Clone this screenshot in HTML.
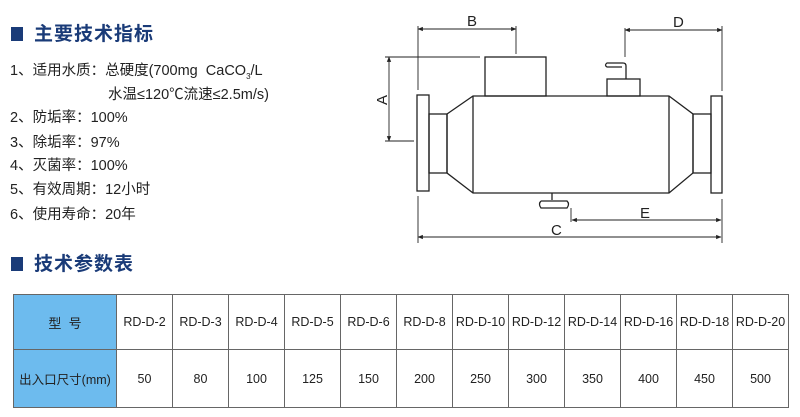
<!DOCTYPE html>
<html><head><meta charset="utf-8"><style>
body{margin:0;width:800px;height:417px;background:#fff;position:relative;overflow:hidden;font-family:"Liberation Sans","Noto Sans CJK SC",sans-serif;color:#222}
.h{position:absolute;left:11px;color:#1a3b78;font-weight:bold;font-size:19px;line-height:20px;letter-spacing:1px}
.h i{display:inline-block;width:12px;height:14px;background:#1a3b78;margin-right:11px;vertical-align:-1px}
.l{position:absolute;left:10px;font-size:14.5px;line-height:16px;white-space:nowrap}
table{position:absolute;left:13px;top:294px;border-collapse:collapse;font-size:12.5px}
td{border:1px solid #666;text-align:center;padding:0;width:55px;white-space:nowrap}
td.f{width:102px;background:#6dbbee;font-size:13px}
tr.a td{height:54px}tr.b td{height:57px}
</style></head><body>
<div class="h" style="top:25px"><i></i>主要技术指标</div>
<div class="l" style="top:63px">1、适用水质：总硬度(700mg&nbsp; CaCO<sub style="font-size:8px">3</sub>/L</div>
<div class="l" style="top:87px;left:108px">水温≤120℃流速≤2.5m/s)</div>
<div class="l" style="top:110px">2、防垢率：100%</div>
<div class="l" style="top:135px">3、除垢率：97%</div>
<div class="l" style="top:158px">4、灭菌率：100%</div>
<div class="l" style="top:182px">5、有效周期：12小时</div>
<div class="l" style="top:207px">6、使用寿命：20年</div>
<div class="h" style="top:255px"><i></i>技术参数表</div>
<svg width="800" height="417" style="position:absolute;left:0;top:0" fill="none" stroke="#222" stroke-width="1.3">
<defs><marker id="m" viewBox="0 0 10 10" refX="9" refY="5" markerWidth="6" markerHeight="6" orient="auto-start-reverse"><path d="M0,1L10,5L0,9z" fill="#222" stroke="none"/></marker></defs>
<rect x="417" y="95" width="12" height="96"/>
<rect x="429" y="114" width="18" height="59"/>
<path d="M447,114L473,96L669,96L693,114L693,173L669,193L473,193L447,173z"/>
<line x1="473" y1="96" x2="473" y2="193"/><line x1="669" y1="96" x2="669" y2="193"/>
<rect x="693" y="114" width="18" height="59"/>
<rect x="711" y="96" width="11" height="97"/>
<rect x="485" y="57" width="61" height="39"/>
<rect x="607" y="79" width="33" height="17"/>
<path d="M626,79L626,66Q626,63 623,63L607,63Q604,65 607,67L622,67"/>
<path d="M552,193L552,200M541,201L567,201Q570,204 567,208L541,208Q538,204 541,201" />
<g stroke-width="0.9">
<line x1="418" y1="26" x2="418" y2="90"/><line x1="516" y1="26" x2="516" y2="54"/>
<line x1="418" y1="29" x2="516" y2="29" marker-start="url(#m)" marker-end="url(#m)"/>
<line x1="625" y1="28" x2="625" y2="57"/><line x1="722" y1="26" x2="722" y2="91"/>
<line x1="625" y1="30" x2="722" y2="30" marker-start="url(#m)" marker-end="url(#m)"/>
<line x1="385" y1="57" x2="480" y2="57"/><line x1="385" y1="141" x2="414" y2="141"/>
<line x1="389" y1="57" x2="389" y2="141" marker-start="url(#m)" marker-end="url(#m)"/>
<line x1="418" y1="196" x2="418" y2="243"/><line x1="722" y1="199" x2="722" y2="243"/>
<line x1="418" y1="237" x2="721" y2="237" marker-start="url(#m)" marker-end="url(#m)"/>
<line x1="571" y1="208" x2="571" y2="222"/>
<line x1="572" y1="220" x2="721" y2="220" marker-start="url(#m)" marker-end="url(#m)"/>
</g>
<g fill="#222" stroke="none" font-family="Liberation Sans" font-size="15">
<text x="467" y="26">B</text><text x="673" y="27">D</text><text x="640" y="218">E</text><text x="551" y="235">C</text>
<text transform="translate(387,105) rotate(-90)">A</text></g>
</svg>
<table>
<tr class="a"><td class="f">型&nbsp;&nbsp;号</td><td>RD-D-2</td><td>RD-D-3</td><td>RD-D-4</td><td>RD-D-5</td><td>RD-D-6</td><td>RD-D-8</td><td>RD-D-10</td><td>RD-D-12</td><td>RD-D-14</td><td>RD-D-16</td><td>RD-D-18</td><td>RD-D-20</td></tr>
<tr class="b"><td class="f" style="font-size:12.5px">出入口尺寸(mm)</td><td>50</td><td>80</td><td>100</td><td>125</td><td>150</td><td>200</td><td>250</td><td>300</td><td>350</td><td>400</td><td>450</td><td>500</td></tr>
</table>
</body></html>
